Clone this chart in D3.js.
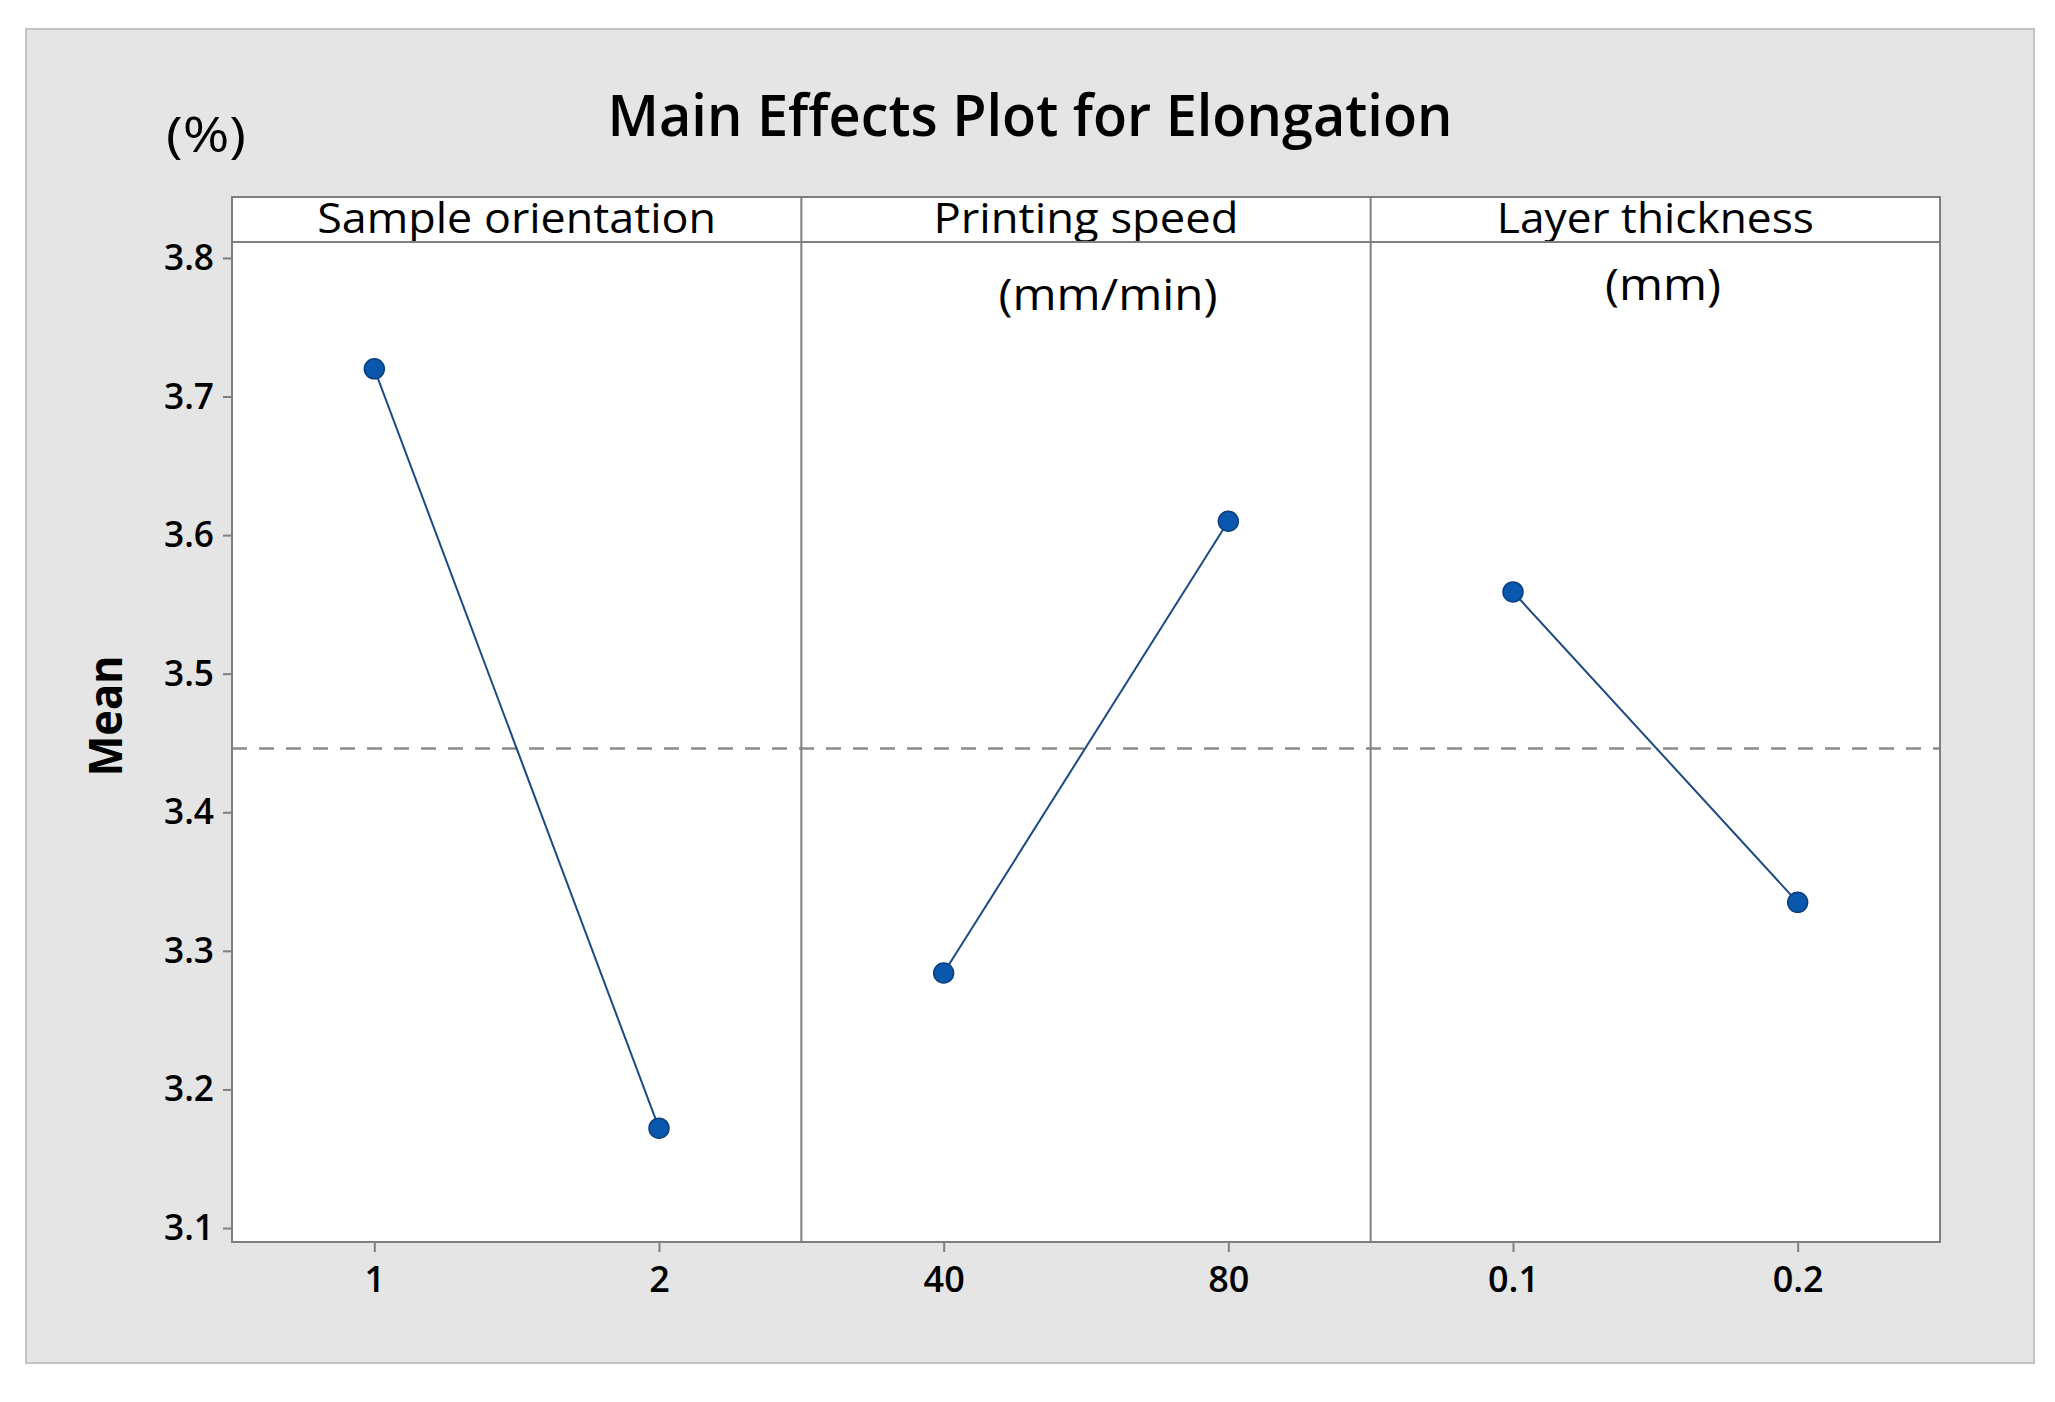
<!DOCTYPE html>
<html>
<head>
<meta charset="utf-8">
<script src="https://cdn.jsdelivr.net/npm/d3@7"></script>
<style>
  body { margin: 0; background: #fff; }
  text { font-family: "Open Sans", "Noto Sans", sans-serif; fill: #000; }
</style>
</head>
<body>
<div id="chart"></div>
<script>
// Data
var factors = ["Sample orientation", "Printing speed", "Layer thickness"];
var units = ["", "(mm/min)", "(mm)"];
var levels = [["1", "2"], ["40", "80"], ["0.1", "0.2"]];
var means = [[3.720, 3.172], [3.284, 3.610], [3.559, 3.335]];
var grandMean = 3.446;
var yTicks = [3.1, 3.2, 3.3, 3.4, 3.5, 3.6, 3.7, 3.8];

//SVG size
var svgWidth = 2055;
var svgHeight = 1402;

//Plot box
var plot = { left: 232, right: 1940, top: 197, header: 242, bottom: 1242 };
var panelW = (plot.right - plot.left) / factors.length;

var svg = d3.select("#chart")
  .append("svg")
  .attr("width", svgWidth)
  .attr("height", svgHeight);

//Gray background panel
svg.append("rect")
  .attr("x", 26).attr("y", 29)
  .attr("width", 2008).attr("height", 1334)
  .attr("fill", "#e5e5e5")
  .attr("stroke", "#c4c4c4")
  .attr("stroke-width", 2);

//Title and unit
svg.append("text")
  .attr("x", 1030).attr("y", 136)
  .attr("text-anchor", "middle")
  .attr("font-size", 57)
  .attr("font-weight", 600)
  .attr("textLength", 845).attr("lengthAdjust", "spacingAndGlyphs")
  .text("Main Effects Plot for Elongation");

svg.append("text")
  .attr("x", 206).attr("y", 152)
  .attr("text-anchor", "middle")
  .attr("font-size", 50)
  .attr("textLength", 80).attr("lengthAdjust", "spacingAndGlyphs")
  .text("(%)");

var y = d3.scaleLinear()
  .domain([3.0899, 3.8115])
  .range([plot.bottom, plot.header]);

//White plot area
svg.append("rect")
  .attr("x", plot.left).attr("y", plot.top)
  .attr("width", plot.right - plot.left).attr("height", plot.bottom - plot.top)
  .attr("fill", "#fff");

//Y axis
var yAxis = svg.append("g")
  .attr("transform", `translate(${plot.left},0)`)
  .call(d3.axisLeft(y).tickValues(yTicks).tickFormat(d3.format(".1f")).tickSize(9).tickPadding(9));
yAxis.select(".domain").remove();
yAxis.selectAll("line").attr("stroke", "#7f7f7f").attr("stroke-width", 2);
yAxis.selectAll("text")
  .attr("font-size", 36).attr("font-weight", 600)
  .attr("font-family", "Open Sans").attr("fill", "#000")
  .attr("textLength", 50).attr("lengthAdjust", "spacingAndGlyphs");

svg.append("text")
  .attr("transform", "translate(122,716) rotate(-90)")
  .attr("text-anchor", "middle")
  .attr("font-size", 46)
  .attr("font-weight", "bold")
  .attr("font-family", "Liberation Sans")
  .attr("textLength", 121).attr("lengthAdjust", "spacingAndGlyphs")
  .text("Mean");

//Grand mean reference line
svg.append("line")
  .attr("x1", plot.left).attr("x2", plot.right)
  .attr("y1", y(grandMean)).attr("y2", y(grandMean))
  .attr("stroke", "#8a8a8a")
  .attr("stroke-width", 2.5)
  .attr("stroke-dasharray", "15,12");

var headerWidths = [399, 305, 317];
var unitPos = [null, { x: 1108, y: 310, w: 219 }, { x: 1663, y: 300, w: 116 }];

factors.forEach(function(f, i) {
  var x0 = plot.left + i * panelW;
  var x = d3.scalePoint()
    .domain(levels[i])
    .range([x0, x0 + panelW])
    .padding(0.5);

  //X axis ticks
  var xAxis = svg.append("g")
    .attr("transform", `translate(0,${plot.bottom})`)
    .call(d3.axisBottom(x).tickSize(10).tickPadding(14));
  xAxis.select(".domain").remove();
  xAxis.selectAll("line").attr("stroke", "#7f7f7f").attr("stroke-width", 2);
  xAxis.selectAll("text")
    .attr("font-size", 36).attr("font-weight", 600)
    .attr("font-family", "Open Sans").attr("fill", "#000");

  //Header label
  svg.append("text")
    .attr("x", x0 + panelW / 2).attr("y", 233)
    .attr("text-anchor", "middle")
    .attr("font-size", 42)
    .attr("font-weight", 500)
    .attr("textLength", headerWidths[i]).attr("lengthAdjust", "spacingAndGlyphs")
    .text(f);

  if (units[i]) {
    svg.append("text")
      .attr("x", unitPos[i].x).attr("y", unitPos[i].y)
      .attr("text-anchor", "middle")
      .attr("font-size", 44)
      .attr("textLength", unitPos[i].w).attr("lengthAdjust", "spacingAndGlyphs")
      .text(units[i]);
  }

  var pts = levels[i].map(function(l, j) { return { lev: l, val: means[i][j] }; });

  svg.append("path")
    .datum(pts)
    .attr("fill", "none")
    .attr("stroke", "#1b4a80")
    .attr("stroke-width", 2)
    .attr("d", d3.line().x(d => x(d.lev)).y(d => y(d.val)));

  svg.selectAll(null)
    .data(pts)
    .enter()
    .append("circle")
    .attr("cx", d => x(d.lev))
    .attr("cy", d => y(d.val))
    .attr("r", 10)
    .attr("fill", "#0a58ad")
    .attr("stroke", "#0b3f7e")
    .attr("stroke-width", 1.5);
});

//Panel borders drawn last
var frame = svg.append("g").attr("stroke", "#7f7f7f").attr("stroke-width", 2).attr("fill", "none");
frame.append("rect")
  .attr("x", plot.left).attr("y", plot.top)
  .attr("width", plot.right - plot.left).attr("height", plot.bottom - plot.top);
frame.append("line")
  .attr("x1", plot.left).attr("x2", plot.right)
  .attr("y1", plot.header).attr("y2", plot.header);
for (var k = 1; k < factors.length; k++) {
  frame.append("line")
    .attr("x1", plot.left + k * panelW).attr("x2", plot.left + k * panelW)
    .attr("y1", plot.top).attr("y2", plot.bottom);
}
</script>
</body>
</html>
